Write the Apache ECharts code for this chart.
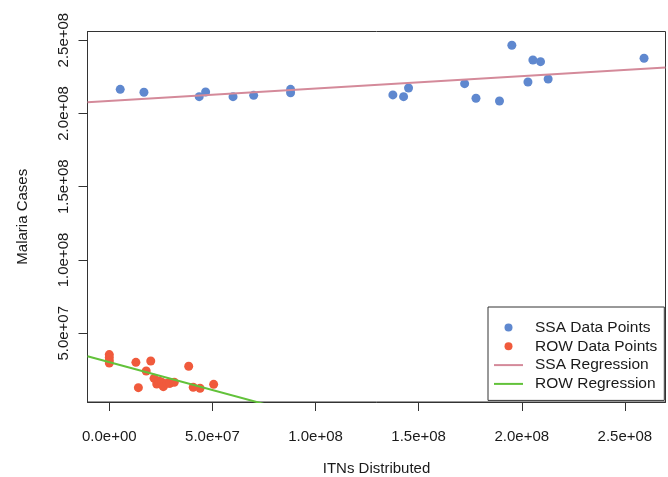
<!DOCTYPE html>
<html>
<head>
<meta charset="utf-8">
<script src="https://cdn.jsdelivr.net/npm/echarts@6/dist/echarts.min.js"></script>
<style>
html,body{margin:0;padding:0;background:#fff;}
#chart{width:668px;height:477px;}
</style>
</head>
<body>
<div id="chart"></div>
<script>
// ---- data ----
var ssaItn = [5.3e6, 1.68e7, 4.36e7, 4.67e7, 6.0e7, 7.0e7, 8.79e7, 8.79e7, 1.375e8, 1.427e8, 1.451e8, 1.723e8, 1.778e8, 1.892e8, 1.952e8, 2.030e8, 2.054e8, 2.091e8, 2.128e8, 2.593e8];
var ssaCases = [2.164e8, 2.144e8, 2.114e8, 2.146e8, 2.114e8, 2.123e8, 2.164e8, 2.141e8, 2.126e8, 2.114e8, 2.173e8, 2.203e8, 2.103e8, 2.085e8, 2.465e8, 2.214e8, 2.364e8, 2.353e8, 2.235e8, 2.376e8];
var rowItn = [0, 0, 0, 0, 1.29e7, 2.01e7, 1.79e7, 1.41e7, 2.17e7, 2.30e7, 2.41e7, 2.54e7, 2.62e7, 2.81e7, 2.94e7, 3.15e7, 3.85e7, 4.07e7, 4.40e7, 5.06e7];
var rowCases = [3.55e7, 3.35e7, 3.14e7, 2.97e7, 3.02e7, 3.11e7, 2.43e7, 1.29e7, 1.93e7, 1.54e7, 1.75e7, 1.66e7, 1.36e7, 1.59e7, 1.58e7, 1.66e7, 2.75e7, 1.32e7, 1.25e7, 1.52e7];
var ssaFit = [2.085e8, 0.0848];   // intercept, slope
var rowFit = [3.03e7, -0.380];    // intercept, slope
var xTicks = [0, 5e7, 1e8, 1.5e8, 2e8, 2.5e8];
var yTicks = [5e7, 1e8, 1.5e8, 2e8, 2.5e8];
var legendNames = ['SSA Data Points', 'ROW Data Points', 'SSA Regression', 'ROW Regression'];

var xMin = -1.057e7, xMax = 2.697e8;
var yMin = 3.14e6, yMax = 2.5587e8;

function zipPts(xs, ys) { return xs.map(function (x, i) { return [x, ys[i]]; }); }
function fitLine(fit) { return [[xMin, fit[0] + fit[1] * xMin], [xMax, fit[0] + fit[1] * xMax]]; }
function sci(v) {
  if (v === 0) return '0.0e+00';
  var e = Math.floor(Math.log10(Math.abs(v)) + 1e-9);
  var m = v / Math.pow(10, e);
  return m.toFixed(1) + 'e' + (e >= 0 ? '+' : '-') + (Math.abs(e) < 10 ? '0' : '') + Math.abs(e);
}

var FONT = '"Liberation Sans", Arial, sans-serif';
var TXT = '#1a1a1a';

var chart = echarts.init(document.getElementById('chart'), null, {renderer: 'canvas'});
chart.setOption({
  animation: false,
  backgroundColor: '#ffffff',
  textStyle: {fontFamily: FONT},
  grid: {left: 87.5, right: 2.5, top: 31.5, bottom: 75, containLabel: false, outerBoundsMode: 'none', show: true, borderColor: '#333', borderWidth: 1, backgroundColor: 'transparent'},
  xAxis: {
    type: 'value', min: xMin, max: xMax, position: 'bottom',
    splitLine: {show: false},
    axisLine: {show: true, onZero: false, lineStyle: {color: '#333', width: 1}},
    axisTick: {show: true, inside: false, length: 9, lineStyle: {color: '#333'}, customValues: xTicks},
    axisLabel: {customValues: xTicks, formatter: sci, color: TXT, fontSize: 15, fontFamily: FONT, margin: 27},
    name: 'ITNs Distributed', nameLocation: 'middle', nameGap: 59,
    nameTextStyle: {color: TXT, fontSize: 15, fontFamily: FONT}
  },
  yAxis: {
    type: 'value', min: yMin, max: yMax, position: 'left',
    splitLine: {show: false},
    axisLine: {show: true, onZero: false, lineStyle: {color: '#333', width: 1}},
    axisTick: {show: true, inside: false, length: 9, lineStyle: {color: '#333'}, customValues: yTicks},
    axisLabel: {customValues: yTicks, formatter: sci, rotate: 90, color: TXT, fontSize: 15, fontFamily: FONT, margin: 16},
    name: 'Malaria Cases', nameLocation: 'middle', nameGap: 57, nameRotate: 90,
    nameTextStyle: {color: TXT, fontSize: 15, fontFamily: FONT}
  },
  legend: {
    orient: 'vertical', left: 488, top: 307,
    data: [
      {name: legendNames[0]},
      {name: legendNames[1]},
      {name: legendNames[2], itemStyle: {opacity: 0}},
      {name: legendNames[3], itemStyle: {opacity: 0}}
    ],
    itemWidth: 29, itemHeight: 8, itemGap: 2.8,
    padding: [12.5, 7, 8.5, 5],
    borderColor: '#333', borderWidth: 1, backgroundColor: '#fff',
    textStyle: {color: TXT, fontSize: 15.5, fontFamily: FONT, lineHeight: 16, padding: [0, 0, 0, 7]}
  },
  series: [
    {name: legendNames[0], type: 'scatter', data: zipPts(ssaItn, ssaCases), symbol: 'circle', symbolSize: 9, itemStyle: {color: '#5f88cf', opacity: 1}},
    {name: legendNames[1], type: 'scatter', data: zipPts(rowItn, rowCases), symbol: 'circle', symbolSize: 9, itemStyle: {color: '#f05a3c', opacity: 1}},
    {name: legendNames[2], type: 'line', data: fitLine(ssaFit), symbol: 'none', showSymbol: false, clip: true, lineStyle: {color: '#d48a9a', width: 2}, itemStyle: {color: '#d48a9a'}},
    {name: legendNames[3], type: 'line', data: fitLine(rowFit), symbol: 'none', showSymbol: false, clip: true, lineStyle: {color: '#62c23a', width: 2}, itemStyle: {color: '#62c23a'}}
  ]
});
</script>
</body>
</html>
